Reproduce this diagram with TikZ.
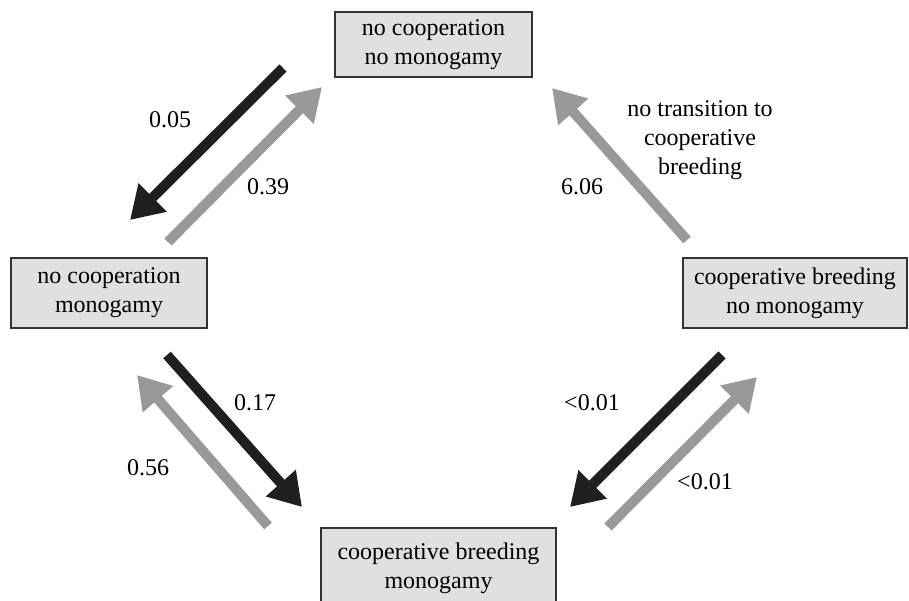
\documentclass[tikz,border=0pt]{standalone}
\usepackage{fontspec}
\setmainfont{Liberation Serif}
\usetikzlibrary{arrows.meta}

\tikzset{
  state/.style={draw=black!80, line width=1.6pt, fill=black!12, align=center,
    inner sep=0pt, font=\fontsize{24}{29}\selectfont},
  rate/.style={font=\fontsize{24}{29}\selectfont, align=center},
  fwd/.style={line width=10pt, draw=black!88, -{Triangle[length=32pt,width=38pt]}},
  bwd/.style={line width=10pt, draw=black!40, -{Triangle[length=32pt,width=38pt]}}
}

\begin{document}
\begin{tikzpicture}[x=1pt,y=-1pt]
    \useasboundingbox (0,0) rectangle (909,600);
    \clip (0,0) rectangle (909,600);

    \node[state, minimum width=197pt, minimum height=65pt] (nocoop) at (433.5,44.5) {no cooperation\\no monogamy};
    \node[state, minimum width=196pt, minimum height=70pt] (mono) at (109,293) {no cooperation\\monogamy};
    \node[state, minimum width=224pt, minimum height=70pt] (coop) at (795,293) {cooperative breeding\\no monogamy};
    \node[state, minimum width=235pt, minimum height=80pt] (coopmono) at (438.5,568) {cooperative breeding\\monogamy};

    \coordinate (a1) at (283,68);  \coordinate (b1) at (130,220);
    \coordinate (a2) at (168,242); \coordinate (b2) at (322,87);
    \coordinate (a3) at (687,240); \coordinate (b3) at (552,88);
    \coordinate (a4) at (167,355); \coordinate (b4) at (302,507);
    \coordinate (a5) at (268,526); \coordinate (b5) at (137,375);
    \coordinate (a6) at (722,355); \coordinate (b6) at (570,507);
    \coordinate (a7) at (608,527); \coordinate (b7) at (757,377);

    \draw[fwd] (a1) -- (b1);
    \draw[bwd] (a2) -- (b2);
    \draw[bwd] (a3) -- (b3);
    \draw[fwd] (a4) -- (b4);
    \draw[bwd] (a5) -- (b5);
    \draw[fwd] (a6) -- (b6);
    \draw[bwd] (a7) -- (b7);

    \node[rate] (r1) at (170,120) {0.05};
    \node[rate] (r2) at (268,187) {0.39};
    \node[rate] (r3) at (582,187) {6.06};
    \node[rate] (r4) at (700,140) {no transition to\\cooperative\\breeding};
    \node[rate] (r5) at (255,403) {0.17};
    \node[rate] (r6) at (148,468) {0.56};
    \node[rate] (r7) at (592,403) {<0.01};
    \node[rate] (r8) at (705,482) {<0.01};
\end{tikzpicture}
\end{document}
